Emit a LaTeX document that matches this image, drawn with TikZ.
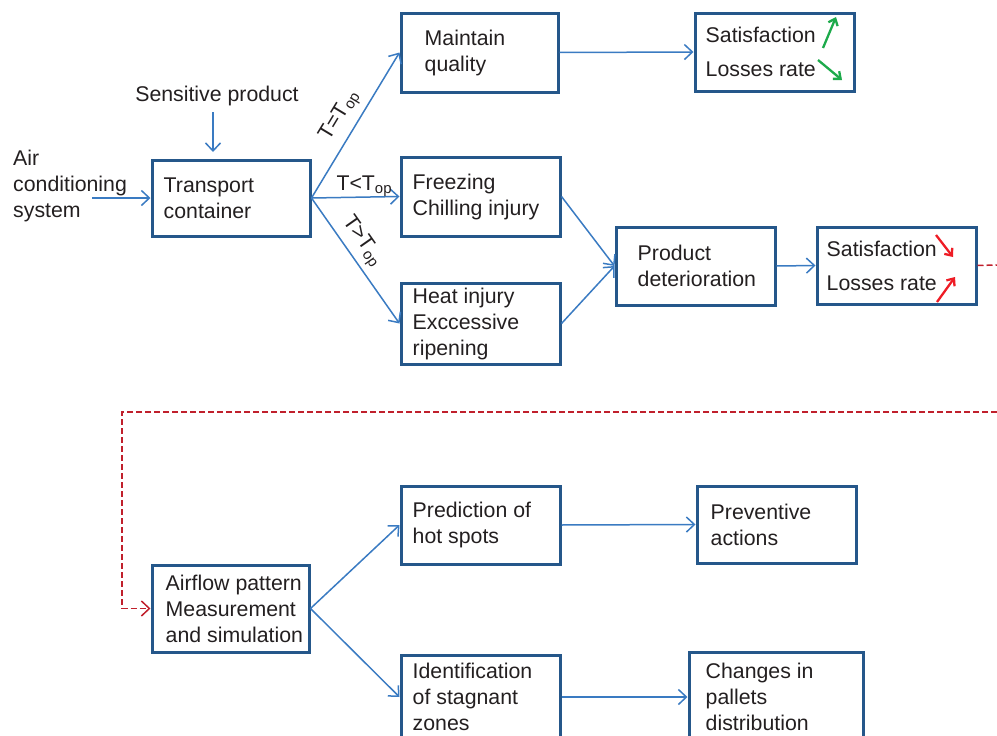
\documentclass[tikz,border=0pt]{standalone}
\usepackage{fontspec}
\setmainfont{Liberation Sans}
\usetikzlibrary{arrows.meta,calc}
\definecolor{boxc}{HTML}{25578A}
\definecolor{linec}{HTML}{3A7BC2}
\definecolor{dred}{HTML}{C0202C}
\definecolor{grn}{HTML}{1DAA4B}
\definecolor{rdd}{HTML}{EE1C25}
\definecolor{txtc}{HTML}{231F20}
\begin{document}
\begin{tikzpicture}[x=1pt,y=-1pt,
  box/.style={draw=boxc,line width=3pt,inner sep=0pt},
  txt/.style={anchor=west,align=left,text=txtc,inner sep=0pt,font=\fontsize{21.3}{26}\selectfont},
  txtw/.style={anchor=west,align=left,text=txtc,inner sep=0pt,font=\fontsize{21.3}{34}\selectfont},
  lbl/.style={text=txtc,font=\fontsize{21.3}{26}\selectfont},
  conn/.style={draw=linec,line width=1.5pt,-{Straight Barb[length=8pt,width=15pt]}},
  dsh/.style={draw=dred,line width=1.5pt,dash pattern=on 6pt off 3pt},
  garr/.style={draw=grn,line width=2.3pt,-{Straight Barb[length=6pt,width=10pt]}},
  rarr/.style={draw=rdd,line width=2.3pt,-{Straight Barb[length=6pt,width=10pt]}}
]
\useasboundingbox (0,0) rectangle (997,736);

% boxes
\node[box,minimum width=158pt,minimum height=76pt] (tc) at (231,198) {};
\node[box,minimum width=157pt,minimum height=79pt] (mq) at (479.5,52.5) {};
\node[box,minimum width=159pt,minimum height=78pt] (s1) at (774.5,52) {};
\node[box,minimum width=159pt,minimum height=79pt] (fc) at (480.5,196.5) {};
\node[box,minimum width=159pt,minimum height=81pt] (hi) at (480.5,323.5) {};
\node[box,minimum width=159pt,minimum height=78pt] (pd) at (695.5,266) {};
\node[box,minimum width=159pt,minimum height=77pt] (s2) at (896.5,265.5) {};
\node[box,minimum width=157pt,minimum height=87pt] (ap) at (230.5,608.5) {};
\node[box,minimum width=159pt,minimum height=78pt] (ph) at (480.5,525) {};
\node[box,minimum width=159pt,minimum height=77pt] (pa) at (776.5,524.5) {};
\node[box,minimum width=159pt,minimum height=84pt] (is) at (480.5,697) {};
\node[box,minimum width=174pt,minimum height=90pt] (cp) at (776,697) {};

% texts
\node[txt] (tct) at ($(tc.west)+(13,0)$) {Transport\\container};
\node[txt] (mqt) at ($(mq.west)+(25,0)$) {Maintain\\quality};
\node[txtw] (s1t) at ($(s1.west)+(12,0)$) {Satisfaction\\Losses rate};
\node[txt] (fct) at ($(fc.west)+(13,0)$) {Freezing\\Chilling injury};
\node[txt] (hit) at ($(hi.west)+(13,0)$) {Heat injury\\Exccessive\\ripening};
\node[txt] (pdt) at ($(pd.west)+(23,0)$) {Product\\deterioration};
\node[txtw] (s2t) at ($(s2.west)+(11,0)$) {Satisfaction\\Losses rate};
\node[txt] (apt) at ($(ap.west)+(15,0)$) {Airflow pattern\\Measurement\\and simulation};
\node[txt] (pht) at ($(ph.west)+(13,0)$) {Prediction of\\hot spots};
\node[txt] (pat) at ($(pa.west)+(15,0)$) {Preventive\\actions};
\node[txt] (ist) at ($(is.west)+(13,0)$) {Identification\\of stagnant\\zones};
\node[txt] (cpt) at ($(cp.west)+(18,0)$) {Changes in\\pallets\\distribution};

\node[txt] (air) at (13,186) {Air\\conditioning\\system};
\node[lbl,inner sep=0pt] (sp) at (217,96) {Sensitive product};

% input arrows
\coordinate (aca) at (92,198);
\coordinate (spa) at (213,112);
\coordinate (spb) at (213,152);
\draw[conn] (aca) -- (aca -| tc.west);
\draw[conn] (spa) -- (spb);

% branches
\draw[conn] (tc.east) -- node[pos=0.5,sloped,above,lbl,inner sep=7pt]{T=T\textsubscript{op}} (mq.west);
\draw[conn] (tc.east) -- node[pos=0.6,above,lbl,inner sep=0pt]{T<T\textsubscript{op}} (fc.west);
\draw[conn] (tc.east) -- node[pos=0.42,sloped,above,lbl,inner sep=5pt]{T>T\textsubscript{op}} (hi.west);
\draw[conn] (mq.east) -- (s1.west);
\draw[conn] (fc.east) -- (pd.west);
\draw[conn] (hi.east) -- (pd.west);
\draw[conn] (pd.east) -- (s2.west);

% trend arrows
\draw[garr] (823,48) -- (836,17);
\draw[garr] (818,60) -- (842,80);
\draw[rarr] (936,235) -- (953,257);
\draw[rarr] (937,302) -- (955,277);

% dashed loop
\coordinate (r1) at (997,265);
\coordinate (r2) at (997,412);
\coordinate (r3) at (122,412);
\draw[dsh] (s2.east) -- (r1);
\draw[dsh,-{Straight Barb[length=8pt,width=15pt]}] (r2) -- (r3) |- (ap.west);

% lower branches
\draw[conn] (ap.east) -- (ph.west);
\draw[conn] (ap.east) -- (is.west);
\draw[conn] (ph.east) -- (pa.west);
\draw[conn] (is.east) -- (cp.west);
\end{tikzpicture}
\end{document}
